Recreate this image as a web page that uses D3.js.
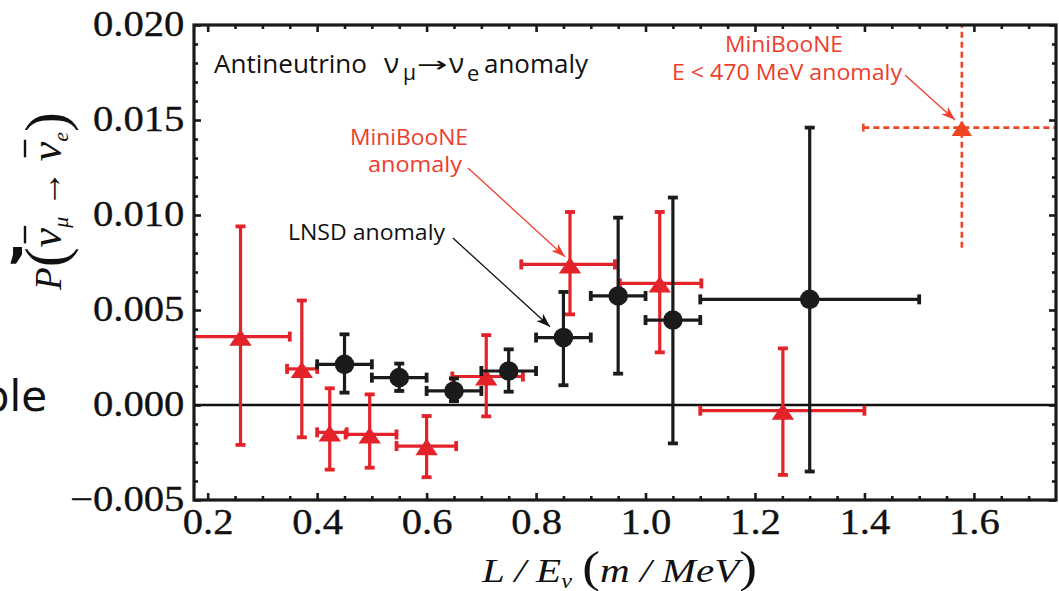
<!DOCTYPE html>
<html><head><meta charset="utf-8">
<script src="https://cdn.jsdelivr.net/npm/d3@7"></script>
<style>
html,body{margin:0;padding:0;background:#fff;}
svg{display:block;}
</style></head><body>
<svg id="chart" width="1059" height="591"></svg>
<script>
// ---------------- data ----------------
// LNSD (black circles)
const lnsdX   = [0.45, 0.55, 0.65, 0.75, 0.85, 0.95, 1.05, 1.30];
const lnsdXLo = [0.40, 0.50, 0.60, 0.70, 0.80, 0.90, 1.00, 1.10];
const lnsdXHi = [0.50, 0.60, 0.70, 0.80, 0.90, 1.00, 1.10, 1.50];
const lnsdY   = [0.00214, 0.00144, 0.00074, 0.00179, 0.00355, 0.00574, 0.00447, 0.00556];
const lnsdYLo = [0.00065, 0.00074, 0.00020, 0.00070, 0.00104, 0.00165, -0.00202, -0.00350];
const lnsdYHi = [0.00372, 0.00218, 0.00140, 0.00293, 0.00595, 0.00986, 0.01092, 0.01460];

// MiniBooNE (red triangles)
const mbX   = [0.26, 0.372, 0.423, 0.496, 0.60, 0.709, 0.862, 1.026, 1.251];
const mbXLo = [0.15, 0.345, 0.400, 0.452, 0.545, 0.647, 0.773, 0.953, 1.10];
const mbXHi = [0.35, 0.400, 0.454, 0.545, 0.654, 0.776, 0.944, 1.102, 1.40];
const mbY   = [0.0036, 0.0019, -0.00144, -0.00155, -0.00216, 0.0015, 0.0074, 0.0064, -0.0003];
const mbYLo = [-0.0021, -0.0017, -0.0034, -0.0033, -0.0038, -0.0006, 0.00477, 0.00277, -0.00368];
const mbYHi = [0.0094, 0.0055, 0.00088, 0.00056, -0.00058, 0.00368, 0.01016, 0.01016, 0.00298];

// MiniBooNE E < 470 MeV (dashed, red-orange)
const lowEX   = [1.578];
const lowEXLo = [1.398];
const lowEXHi = [1.95];
const lowEY   = [0.0146];
const lowEYLo = [0.00828];
const lowEYHi = [0.0250];

// axes
const xDomain = [0.175, 1.75];
const yDomain = [-0.005, 0.020];
const xMajorTicks = [0.2, 0.4, 0.6, 0.8, 1.0, 1.2, 1.4, 1.6];
const xTickLabels = ["0.2", "0.4", "0.6", "0.8", "1.0", "1.2", "1.4", "1.6"];
const yMajorTicks = [-0.005, 0.000, 0.005, 0.010, 0.015, 0.020];
const yTickLabels = ["\u22120.005", "0.000", "0.005", "0.010", "0.015", "0.020"];

// ---------------- layout ----------------
const L = 194, R = 1056, T = 25, B = 500;
const svg = d3.select('#chart');
const x = d3.scaleLinear().domain(xDomain).range([L, R]);
const y = d3.scaleLinear().domain(yDomain).range([B, T]);

const xMinorTicks = d3.range(0.20, 1.7501, 0.05).map(v => +v.toFixed(2))
  .filter(v => !xMajorTicks.some(m => Math.abs(m - v) < 1e-6) && v < 1.749);
const yMinorTicks = d3.range(-0.005, 0.02001, 0.001).map(v => +v.toFixed(3))
  .filter(v => !yMajorTicks.some(m => Math.abs(m - v) < 1e-7));

const RED = '#e3222a', BLACK = '#1b1b1b', ANN_RED = '#ee3d2c', LOWE = '#ee4523';
const SERIF = "'Liberation Serif','Times New Roman',serif";
const SANS = "'Open Sans','Noto Sans',sans-serif";

const defs = svg.append('defs');
defs.append('clipPath').attr('id', 'plotClip').append('rect')
  .attr('x', L).attr('y', T).attr('width', R - L).attr('height', B - T);
function arrowMarker(id, color) {
  defs.append('marker').attr('id', id).attr('markerUnits', 'userSpaceOnUse')
    .attr('markerWidth', 16).attr('markerHeight', 12).attr('refX', 14).attr('refY', 5)
    .attr('orient', 'auto')
    .append('path').attr('d', 'M0,0 L14,5 L0,10 L4,5 Z').attr('fill', color);
}
arrowMarker('ahBlack', '#111');
arrowMarker('ahRed', ANN_RED);

// --------- slide artifacts at the left ---------
svg.append('text').attr('x', 47).attr('y', 411).attr('text-anchor', 'end')
  .attr('font-family', "'Comic Sans MS','DejaVu Sans',sans-serif").attr('font-size', 42)
  .attr('fill', '#111').text('ple');
svg.append('text').attr('x', 7).attr('y', 286)
  .attr('font-family', "'DejaVu Sans',sans-serif").attr('font-weight', 'bold').attr('font-size', 54)
  .attr('fill', '#111').text('\u2019');

// ---------------- axes ----------------
function styleAxis(g) {
  g.select('.domain').remove();
  g.selectAll('.tick line').attr('stroke', '#1a1a1a').attr('stroke-width', 2.6);
}
const tickTextStyle = g => g.selectAll('text').attr('font-family', SERIF).attr('font-size', 36)
  .attr('fill', '#111').attr('stroke', '#111').attr('stroke-width', 0.35)
  .attr('transform', 'scale(1.13,1)');
// bottom
svg.append('g').attr('transform', `translate(0,${B})`)
  .call(d3.axisBottom(x).tickValues(xMajorTicks).tickSize(-7).tickPadding(8)
    .tickFormat((d, i) => xTickLabels[i]))
  .call(styleAxis).call(tickTextStyle);
svg.append('g').attr('transform', `translate(0,${B})`)
  .call(d3.axisBottom(x).tickValues(xMinorTicks).tickSize(-4).tickFormat(''))
  .call(styleAxis);
// top
svg.append('g').attr('transform', `translate(0,${T})`)
  .call(d3.axisTop(x).tickValues(xMajorTicks).tickSize(-7).tickFormat(''))
  .call(styleAxis);
svg.append('g').attr('transform', `translate(0,${T})`)
  .call(d3.axisTop(x).tickValues(xMinorTicks).tickSize(-4).tickFormat(''))
  .call(styleAxis);
// left
svg.append('g').attr('transform', `translate(${L},0)`)
  .call(d3.axisLeft(y).tickValues(yMajorTicks).tickSize(-7).tickPadding(8.5)
    .tickFormat((d, i) => yTickLabels[i]))
  .call(styleAxis).call(tickTextStyle)
  .call(g => g.selectAll('text').attr('dy', '0.3em'));
svg.append('g').attr('transform', `translate(${L},0)`)
  .call(d3.axisLeft(y).tickValues(yMinorTicks).tickSize(-4).tickFormat(''))
  .call(styleAxis);
// right
svg.append('g').attr('transform', `translate(${R},0)`)
  .call(d3.axisRight(y).tickValues(yMajorTicks).tickSize(-7).tickFormat(''))
  .call(styleAxis);
svg.append('g').attr('transform', `translate(${R},0)`)
  .call(d3.axisRight(y).tickValues(yMinorTicks).tickSize(-4).tickFormat(''))
  .call(styleAxis);

// zero line
svg.append('line').attr('x1', L).attr('x2', R).attr('y1', y(0)).attr('y2', y(0))
  .attr('stroke', '#111').attr('stroke-width', 2.4);

// ---------------- series ----------------
const plot = svg.append('g').attr('clip-path', 'url(#plotClip)');

const flatTriangle = {
  draw(ctx, size) {
    const w = Math.sqrt(size), h = w * 0.74;
    ctx.moveTo(0, -h * 0.45); ctx.lineTo(w / 2, h * 0.55); ctx.lineTo(-w / 2, h * 0.55); ctx.closePath();
  }
};

function errorSeries(xs, xlo, xhi, ys, ylo, yhi, color, opt) {
  const g = plot.append('g');
  const idx = d3.range(xs.length);
  const sw = opt.sw || 3.2, cap = opt.cap || 5, dash = opt.dash || null;
  g.selectAll(null).data(idx).join('line')
    .attr('x1', i => x(xlo[i])).attr('x2', i => x(xhi[i]))
    .attr('y1', i => y(ys[i])).attr('y2', i => y(ys[i]))
    .attr('stroke', color).attr('stroke-width', sw).attr('stroke-dasharray', dash);
  g.selectAll(null).data(idx).join('line')
    .attr('x1', i => x(xs[i])).attr('x2', i => x(xs[i]))
    .attr('y1', i => y(ylo[i])).attr('y2', i => y(yhi[i]))
    .attr('stroke', color).attr('stroke-width', sw).attr('stroke-dasharray', dash);
  if (opt.caps) {
    [xlo, xhi].forEach(arr => {
      g.selectAll(null).data(idx).join('line')
        .attr('x1', i => x(arr[i])).attr('x2', i => x(arr[i]))
        .attr('y1', i => y(ys[i]) - cap).attr('y2', i => y(ys[i]) + cap)
        .attr('stroke', color).attr('stroke-width', opt.capw || 3.8);
    });
    [ylo, yhi].forEach(arr => {
      g.selectAll(null).data(idx).join('line')
        .attr('x1', i => x(xs[i]) - cap).attr('x2', i => x(xs[i]) + cap)
        .attr('y1', i => y(arr[i])).attr('y2', i => y(arr[i]))
        .attr('stroke', color).attr('stroke-width', opt.capw || 3.8);
    });
  }
  if (opt.leftCapOnly) {
    g.selectAll(null).data(idx).join('line')
      .attr('x1', i => x(xlo[i])).attr('x2', i => x(xlo[i]))
      .attr('y1', i => y(ys[i]) - 4).attr('y2', i => y(ys[i]) + 4)
      .attr('stroke', color).attr('stroke-width', 2.5);
  }
  if (opt.marker === 'circle') {
    g.selectAll(null).data(idx).join('circle')
      .attr('cx', i => x(xs[i])).attr('cy', i => y(ys[i])).attr('r', opt.r || 9.8)
      .attr('fill', color);
  } else {
    g.selectAll(null).data(idx).join('path')
      .attr('transform', i => `translate(${x(xs[i])},${y(ys[i])})`)
      .attr('d', d3.symbol().type(flatTriangle).size(opt.size || 500))
      .attr('fill', color);
  }
}

errorSeries(lowEX, lowEXLo, lowEXHi, lowEY, lowEYLo, lowEYHi, LOWE,
  { sw: 2.6, dash: '6,4', leftCapOnly: true, marker: 'tri', size: 420 });
errorSeries(mbX, mbXLo, mbXHi, mbY, mbYLo, mbYHi, RED, { caps: true, marker: 'tri' });
errorSeries(lnsdX, lnsdXLo, lnsdXHi, lnsdY, lnsdYLo, lnsdYHi, BLACK, { caps: true, marker: 'circle' });

// ---------------- annotations ----------------
const t1 = svg.append('g').attr('fill', '#111');
t1.append('text').attr('x', 214).attr('y', 73).attr('font-family', SANS).attr('font-size', 25)
  .attr('textLength', 153).attr('lengthAdjust', 'spacingAndGlyphs').text('Antineutrino');
t1.append('text').attr('x', 384).attr('y', 73).attr('font-family', SANS).attr('font-size', 28).text('\u03bd');
t1.append('text').attr('x', 403).attr('y', 80).attr('font-family', SANS).attr('font-size', 21).text('\u03bc');
t1.append('text').attr('x', 417).attr('y', 72).attr('font-family', "'DejaVu Sans',sans-serif").attr('font-size', 22)
  .attr('textLength', 31).attr('lengthAdjust', 'spacingAndGlyphs').text('\u2192');
t1.append('text').attr('x', 449).attr('y', 73).attr('font-family', SANS).attr('font-size', 28).text('\u03bd');
t1.append('text').attr('x', 467).attr('y', 81).attr('font-family', SANS).attr('font-size', 22).text('e');
t1.append('text').attr('x', 484).attr('y', 73).attr('font-family', SANS).attr('font-size', 25)
  .attr('textLength', 104).attr('lengthAdjust', 'spacingAndGlyphs').text('anomaly');

function annText(txt, cx, by, w, color, anchor) {
  svg.append('text').attr('x', cx).attr('y', by).attr('text-anchor', anchor || 'middle')
    .attr('font-family', SANS).attr('font-size', 22).attr('fill', color)
    .attr('textLength', w).attr('lengthAdjust', 'spacingAndGlyphs').text(txt);
}
annText('MiniBooNE', 409, 145, 118, ANN_RED);
annText('anomaly', 415, 172, 94, ANN_RED);
annText('LNSD anomaly', 288, 240, 157, '#111', 'start');
annText('MiniBooNE', 784, 52, 118, ANN_RED);
annText('E < 470 MeV anomaly', 787, 80, 230, ANN_RED);

// arrows (data coordinates)
const arrowFrom = [[0.648, 0.00879], [0.6756, 0.01247], [1.474, 0.01737]];
const arrowTo   = [[0.8255, 0.00412], [0.8529, 0.0078], [1.5655, 0.0150]];
const arrowCol  = ['#111', ANN_RED, ANN_RED];
const arrowIds  = ['ahBlack', 'ahRed', 'ahRed'];
svg.append('g').selectAll('line').data(d3.range(3)).join('line')
  .attr('x1', i => x(arrowFrom[i][0])).attr('y1', i => y(arrowFrom[i][1]))
  .attr('x2', i => x(arrowTo[i][0])).attr('y2', i => y(arrowTo[i][1]))
  .attr('stroke', i => arrowCol[i]).attr('stroke-width', 1.3)
  .attr('marker-end', i => `url(#${arrowIds[i]})`);

// frame
svg.append('rect').attr('x', L).attr('y', T).attr('width', R - L).attr('height', B - T)
  .attr('fill', 'none').attr('stroke', '#1a1a1a').attr('stroke-width', 3.2);

// ---------------- axis titles ----------------
const xt = svg.append('text').attr('x', 482).attr('y', 582)
  .attr('font-family', SERIF).attr('font-size', 34).attr('fill', '#111')
  .attr('textLength', 275).attr('lengthAdjust', 'spacingAndGlyphs');
xt.append('tspan').attr('font-style', 'italic').text('L / E');
xt.append('tspan').attr('font-style', 'italic').attr('font-size', 20).attr('dy', 6).text('\u03bd');
xt.append('tspan').attr('dy', -6).text(' ');
xt.append('tspan').attr('font-size', 44).text('(');
xt.append('tspan').attr('font-style', 'italic').text('m / MeV');
xt.append('tspan').attr('font-size', 44).text(')');

const ytG = svg.append('g').attr('transform', 'translate(61,201) rotate(-90)');
const yt = ytG.append('text')
  .attr('text-anchor', 'middle').attr('font-family', SERIF).attr('font-size', 37).attr('fill', '#111');
yt.append('tspan').attr('font-style', 'italic').text('P');
yt.append('tspan').attr('font-size', 60).attr('dy', 5).text('(');
yt.append('tspan').attr('font-style', 'italic').attr('font-size', 44).attr('dy', -5).text('\u03bd');
yt.append('tspan').attr('font-style', 'italic').attr('font-size', 22).attr('dy', 7).text('\u03bc');
yt.append('tspan').attr('dy', -7).text(' \u2192 ');
yt.append('tspan').attr('font-style', 'italic').attr('font-size', 44).text('\u03bd');
yt.append('tspan').attr('font-style', 'italic').attr('font-size', 22).attr('dy', 7).text('e');
yt.append('tspan').attr('dy', -2).attr('font-size', 60).text(')');
// overbars above the two nu glyphs (chars 2 and 7)
[2, 7].forEach(ci => {
  const node = yt.node();
  const s = node.getStartPositionOfChar(ci), e = node.getEndPositionOfChar(ci);
  ytG.append('line').attr('x1', s.x + 4).attr('x2', e.x + 2).attr('y1', -36).attr('y2', -36)
    .attr('stroke', '#111').attr('stroke-width', 2.4);
});
</script>
</body></html>
